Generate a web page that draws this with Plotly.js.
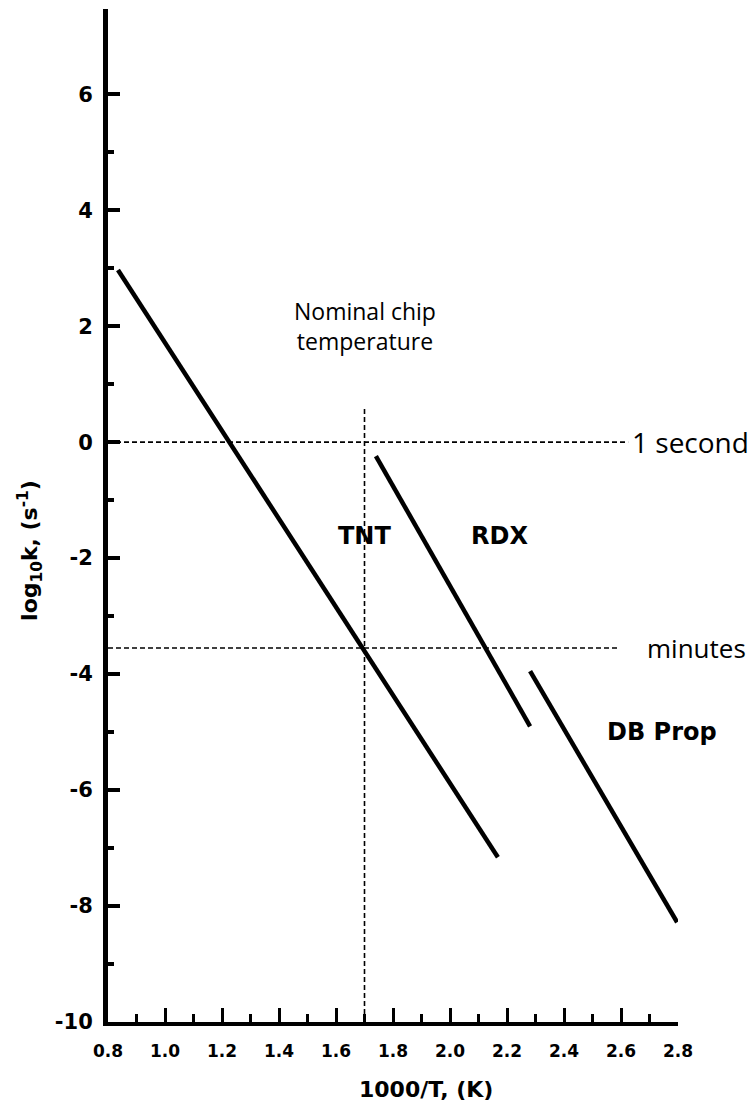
<!DOCTYPE html>
<html>
<head>
<meta charset="utf-8">
<script src="https://cdn.plot.ly/plotly-3.0.1.min.js"></script>
<style>html,body{margin:0;padding:0;background:#fff;}#chart{width:753px;height:1110px;}</style>
</head>
<body>
<div id="chart"></div>
<script>
// Arrhenius lines (1000/T vs log10 k)
const tntX = [0.835, 2.168];
const tntY = [2.97, -7.16];
const rdxX = [1.740, 2.281];
const rdxY = [-0.24, -4.90];
const dbX = [2.281, 2.797];
const dbY = [-3.95, -8.28];
// reference lines
const oneSecondX = [0.8, 2.625];
const oneSecondY = [0, 0];
const minutesX = [0.8, 2.59];
const minutesY = [-3.55, -3.55];
const chipX = [1.7, 1.7];
const chipY = [-10, 0.59];
const xTickVals = [0.8, 1.0, 1.2, 1.4, 1.6, 1.8, 2.0, 2.2, 2.4, 2.6, 2.8];
const xTickText = ["0.8", "1.0", "1.2", "1.4", "1.6", "1.8", "2.0", "2.2", "2.4", "2.6", "2.8"];
const yTickVals = [6, 4, 2, 0, -2, -4, -6, -8, -10];
const yTickText = ["6", "4", "2", "0", "-2", "-4", "-6", "-8", "-10"];
const yMinorVals = [5, 3, 1, -1, -3, -5, -7, -9];

const solid = {color: '#000', width: 4.5};
const dashed = {color: '#000', width: 1.6, dash: '5px,3px'};

const traces = [
  {x: oneSecondX, y: oneSecondY, mode: 'lines', line: dashed, cliponaxis: false},
  {x: minutesX, y: minutesY, mode: 'lines', line: dashed, cliponaxis: false},
  {x: chipX, y: chipY, mode: 'lines', line: dashed, cliponaxis: false},
  {x: tntX, y: tntY, mode: 'lines', line: solid, name: 'TNT'},
  {x: rdxX, y: rdxY, mode: 'lines', line: solid, name: 'RDX'},
  {x: dbX, y: dbY, mode: 'lines', line: solid, name: 'DB Prop'}
];

const bold = (size) => ({family: '"DejaVu Sans", sans-serif', size: size, weight: 'bold', color: '#000'});
const light = (size) => ({family: '"Open Sans", sans-serif', size: size, color: '#000'});

const layout = {
  width: 753, height: 1110,
  margin: {l: 108, r: 75, t: 9, b: 88},
  paper_bgcolor: '#fff', plot_bgcolor: '#fff',
  showlegend: false,
  xaxis: {
    range: [0.8, 2.8], showgrid: false, zeroline: false,
    showline: true, linecolor: '#000', linewidth: 4,
    ticks: 'inside', ticklen: 14, tickwidth: 3, tickcolor: '#000',
    tickvals: xTickVals, ticktext: xTickText,
    ticklabelstandoff: 11,
    tickfont: bold(17),
    minor: {dtick: 0.1, tick0: 0.8, ticks: 'inside', ticklen: 8, tickwidth: 3, tickcolor: '#000', showgrid: false}
  },
  yaxis: {
    range: [-10, 7.47], showgrid: false, zeroline: false,
    showline: true, linecolor: '#000', linewidth: 5,
    ticks: 'inside', ticklen: 12, tickwidth: 4, tickcolor: '#000',
    tickvals: yTickVals, ticktext: yTickText,
    ticklabelstandoff: 6,
    tickfont: bold(21),
    minor: {tickmode: 'array', tickvals: yMinorVals, ticks: 'inside', ticklen: 6, tickwidth: 4, tickcolor: '#000', showgrid: false}
  },
  annotations: [
    {text: 'Nominal chip<br>temperature', x: 1.7, y: 2.0, xref: 'x', yref: 'y', showarrow: false,
     font: light(23), align: 'center', yanchor: 'middle'},
    {text: '1 second', x: 2.632, y: 0, xref: 'x', yref: 'y', xanchor: 'left', yanchor: 'middle', showarrow: false,
     font: light(28)},
    {text: 'minutes', x: 2.685, y: -3.55, xref: 'x', yref: 'y', xanchor: 'left', yanchor: 'middle', showarrow: false,
     font: light(26)},
    {text: 'TNT', x: 1.70, y: -1.62, xref: 'x', yref: 'y', showarrow: false, font: bold(24)},
    {text: 'RDX', x: 2.172, y: -1.62, xref: 'x', yref: 'y', showarrow: false, font: bold(24)},
    {text: 'DB Prop', x: 2.744, y: -5.0, xref: 'x', yref: 'y', showarrow: false, font: bold(24)},
    {text: 'log<sub>10</sub>k, (s<sup>-1</sup>)', x: -0.137, y: -1.86, xref: 'paper', yref: 'y',
     textangle: -90, showarrow: false, xanchor: 'center', yanchor: 'middle', font: bold(22)},
    {text: '1000/T, (K)', x: 1.916, y: -0.067, xref: 'x', yref: 'paper', showarrow: false,
     xanchor: 'center', yanchor: 'middle', font: bold(22)}
  ]
};

Plotly.newPlot('chart', traces, layout, {displayModeBar: false, staticPlot: true});
</script>
</body>
</html>
